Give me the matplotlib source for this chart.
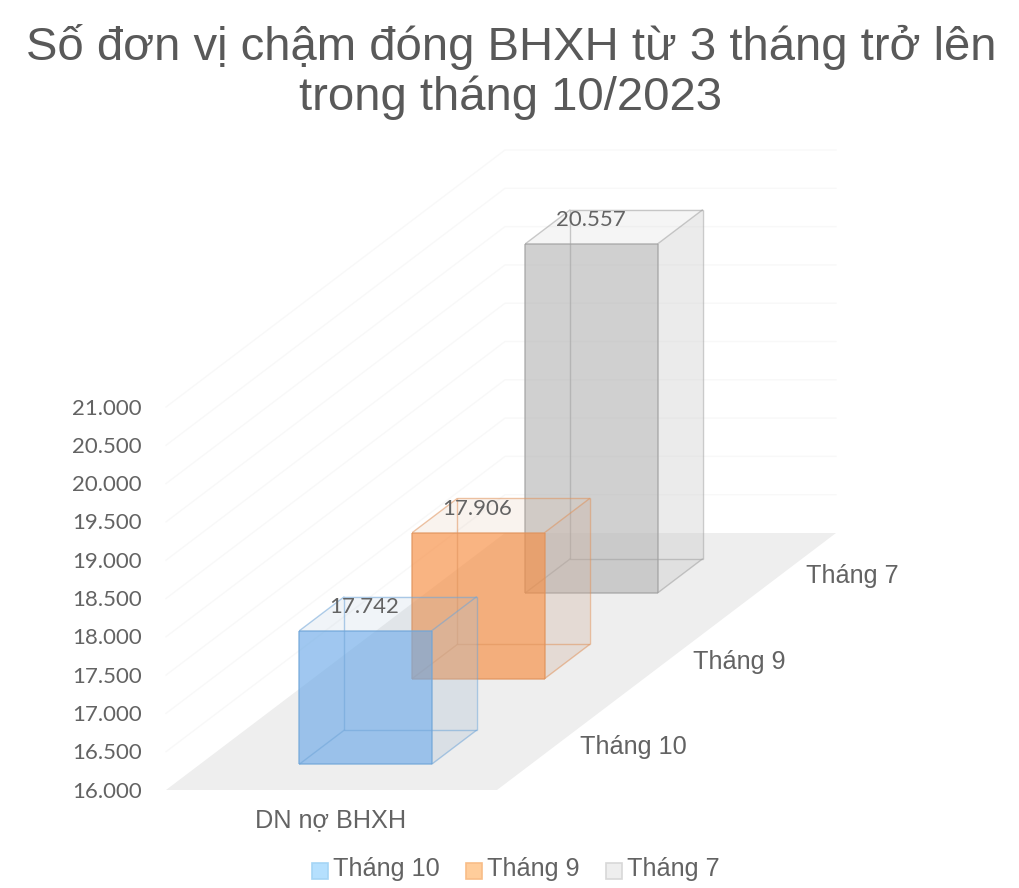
import numpy as np
import matplotlib
matplotlib.use("Agg")
import matplotlib.pyplot as plt
from matplotlib.patches import Polygon, Rectangle

title_lines = ["Số đơn vị chậm đóng BHXH từ 3 tháng trở lên", "trong tháng 10/2023"]
series = ["Tháng 10", "Tháng 9", "Tháng 7"]
values = [17742, 17906, 20557]
value_labels = ["17.742", "17.906", "20.557"]
category = "DN nợ BHXH"
ticks = [16000, 16500, 17000, 17500, 18000, 18500, 19000, 19500, 20000, 20500, 21000]
tick_labels = ["16.000", "16.500", "17.000", "17.500", "18.000", "18.500",
               "19.000", "19.500", "20.000", "20.500", "21.000"]

front_colors = [(109, 170, 232), (247, 140, 63), (183, 183, 183)]
side_colors = [(170, 190, 210), (207, 174, 154), (192, 192, 192)]
top_colors = [(155, 182, 208), (215, 175, 145), (192, 192, 192)]
edge_colors = ["#6fa5d8", "#e0935c", "#a0a0a0"]
legend_fill = ["#b5e0fe", "#ffcd9b", "#eeeeee"]
legend_edge = ["#a5d5f5", "#f8bd88", "#d8d8d8"]

TEXT = "#636363"
TITLE = "#595959"
GRID = "#f8f8f8"
FLOOR = "#eeeeee"


def rgb(c):
    return tuple(v / 255 for v in c)


# oblique projection: x 0-1 across, d 0-1 into the page, v axis value
def proj(x, d, v):
    return (166 + 331 * x + 339 * d, 790 - 0.0766 * (v - ticks[0]) - 257 * d)


fig = plt.figure(figsize=(10.2, 8.88), dpi=100)
ax = fig.add_axes([0, 0, 1, 1])
ax.set_xlim(0, 1020)
ax.set_ylim(888, 0)
ax.axis("off")

# floor
ax.add_patch(Polygon([proj(0, 0, ticks[0]), proj(1, 0, ticks[0]), proj(1, 1, ticks[0]), proj(0, 1, ticks[0])],
                     closed=True, fc=FLOOR, ec="none", zorder=1))

# walls
for t in ticks[1:]:
    p0, p1, p2 = proj(0, 0, t), proj(0, 1, t), proj(1, 1, t)
    ax.plot([p0[0], p1[0], p2[0]], [p0[1], p1[1], p2[1]], color=GRID, lw=1, zorder=1.5)

for t, lab in zip(ticks, tick_labels):
    px, py = proj(0, 0, t)
    ax.text(142, py + 1.5, lab, ha="right", va="center", fontsize=16, family="Lato", color=TEXT)

# bars, back one first so the front ones sit over them
n = len(values)
slot = 1 / n
for i in range(n - 1, -1, -1):
    v = values[i]
    base = ticks[0]
    d0 = i * slot + 0.3 * slot
    d1 = d0 + 0.4 * slot
    x0, x1 = 0.3, 0.7
    z = 2 + (n - i)
    A = proj(x0, d0, base)
    B = proj(x1, d0, base)
    C = proj(x1, d0, v)
    D = proj(x0, d0, v)
    E = proj(x0, d1, base)
    F = proj(x1, d1, base)
    G = proj(x1, d1, v)
    H = proj(x0, d1, v)
    ax.add_patch(Polygon([D, C, G, H], closed=True, fc=rgb(top_colors[i]) + (0.15,), ec="none", zorder=z))
    ax.add_patch(Polygon([B, F, G, C], closed=True, fc=rgb(side_colors[i]) + (0.3,), ec="none", zorder=z))
    ax.add_patch(Polygon([A, B, C, D], closed=True, fc=rgb(front_colors[i]) + (0.65,), ec="none", zorder=z))
    # visible edges
    for a, b in [(A, B), (B, C), (C, D), (D, A)]:
        ax.plot([a[0], b[0]], [a[1], b[1]], color=edge_colors[i], lw=1.1, alpha=0.75, zorder=z + 0.1,
                solid_capstyle="butt")
    # the rest of the box is fainter
    for a, b in [(D, H), (H, G), (G, C), (G, F), (F, B), (A, E), (E, F), (E, H)]:
        ax.plot([a[0], b[0]], [a[1], b[1]], color=edge_colors[i], lw=1, alpha=0.55, zorder=z + 0.1,
                solid_capstyle="butt")

for i in range(n):
    d0 = i * slot + 0.3 * slot
    px, py = proj(0.5, d0, values[i])
    ax.text(px - 1, py - 24, value_labels[i], ha="center", va="center", fontsize=16, family="Lato",
            color=TEXT, zorder=10)
    rx, ry = proj(1, (i + 0.5) * slot, ticks[0])
    ax.text(rx + 27, ry, series[i], ha="left", va="center", fontsize=18.2,
            family="Liberation Sans", color=TEXT, zorder=10)

ax.text(331, 820, category, ha="center", va="center", fontsize=18.2, family="Liberation Sans", color=TEXT)

# title
ax.text(511, 47, title_lines[0], ha="center", va="center", fontsize=34, family="Liberation Sans", color=TITLE)
ax.text(511, 98, title_lines[1], ha="center", va="center", fontsize=34, family="Liberation Sans", color=TITLE)

# legend
legend_x = [312, 466, 606]
for name, fc, ec, lx in zip(series, legend_fill, legend_edge, legend_x):
    ax.add_patch(Rectangle((lx, 863), 16, 16, fc=fc, ec=ec, lw=1.2))
    ax.text(lx + 21, 869, name, ha="left", va="center", fontsize=18.2, family="Liberation Sans", color=TEXT)

fig.savefig("out.png", dpi=100)
